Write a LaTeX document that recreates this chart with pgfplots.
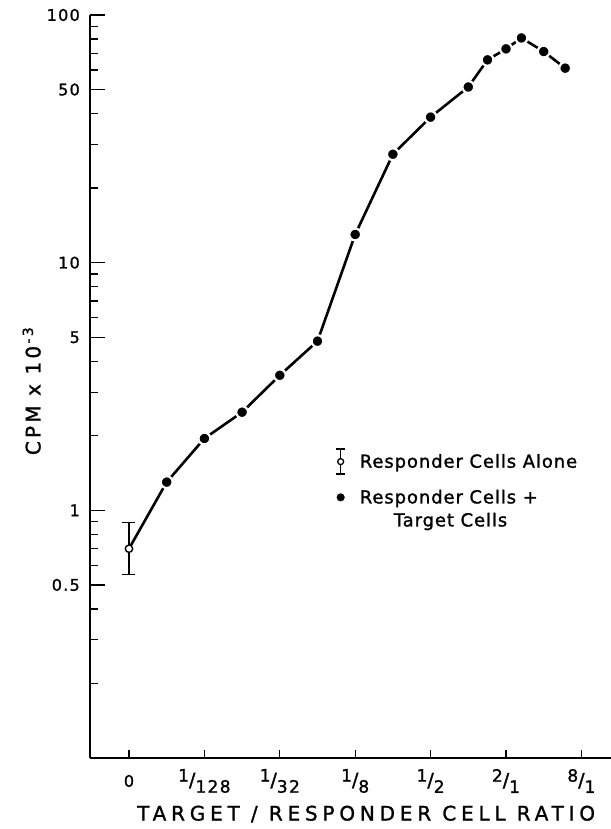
\documentclass[border=0pt]{standalone}
\usepackage{pgfplots}
\pgfplotsset{compat=1.18}
\usepackage{fontspec}
\setmainfont{DejaVu Sans}[FakeBold=1.3]
\newcommand\fr[2]{{\fontsize{17bp}{20bp}\selectfont\raisebox{0.55ex}{#1}{\fontsize{19bp}{20bp}\selectfont/}\raisebox{-0.65ex}{#2}}}
\begin{document}
\begin{tikzpicture}
\begin{axis}[
  at={(90bp,71bp)}, anchor=south west,
  scale only axis, width=521bp, height=743bp,
  ymode=log, xmin=-1.034, xmax=12.785, ymin=0.1, ymax=100,
  axis lines=left, axis line style={-, line width=1.4bp, black},
  clip=false,
  tick align=inside,
  major tick length=15bp, minor tick length=8bp,
  tick style={line width=1.3bp, black},
  ytick={0.5,1,5,10,50,100},
  yticklabels={0.5,1,5,10,50,100},
  minor ytick={0.2,0.3,0.4,0.6,0.7,0.8,0.9,2,3,4,6,7,8,9,20,30,40,60,70,80,90},
  xtick={0,2,4,6,8,10,12},
  xticklabels={0,\fr{1}{128},\fr{1}{32},\fr{1}{8},\fr{1}{2},\fr{2}{1},\fr{8}{1}},
  major x tick style={draw=none},
  minor xtick={0,2,4,6,8,10,12},
  /pgf/number format/assume math mode=true,
  tick label style={font=\fontsize{16bp}{19bp}\selectfont\addfontfeatures{LetterSpace=8}},
  yticklabel style={inner sep=0pt, anchor=east, xshift=-10bp},
  xticklabel style={inner sep=0pt, anchor=center, yshift=-23bp},
  xlabel={TARGET / RESPONDER CELL RATIO},
  xlabel style={at={(axis description cs:0.530,-0.0754)}, anchor=center, inner sep=0pt,
    font=\fontsize{20bp}{24bp}\selectfont\addfontfeatures{LetterSpace=24}},
  ylabel={CPM x 10\textsuperscript{\,-3}},
  ylabel style={at={(axis description cs:-0.112,0.494)}, anchor=center, inner sep=0pt,
    font=\fontsize{20bp}{24bp}\selectfont\addfontfeatures{LetterSpace=16}},
  legend style={draw=none, fill=none, inner sep=0pt, outer sep=0pt,
    at={(axis description cs:0.4712,0.4166)}, anchor=north west,
    row sep=15bp, column sep=14bp,
    nodes={inner sep=0pt},
    font=\fontsize{18bp}{22bp}\selectfont\addfontfeatures{LetterSpace=5}},
  legend cell align=left,
]
\addplot[line width=2.6bp, black, forget plot] coordinates {
  (0,0.70) (1,1.30) (2,1.95) (3,2.49) (4,3.51) (5,4.82) (6,13.0) (7,27.4)
  (8,38.7) (9,51.2) (9.51,65.9) (10,73.0) (10.41,80.8) (11,71.2) (11.57,61.0)
};
\addplot[only marks, mark=*, mark size=5.9bp,
  mark options={fill=black, draw=white, line width=2.2bp}, forget plot] coordinates {
  (1,1.30) (2,1.95) (3,2.49) (4,3.51) (5,4.82) (6,13.0) (7,27.4)
  (8,38.7) (9,51.2) (9.51,65.9) (10,73.0) (10.41,80.8) (11,71.2) (11.57,61.0)
};
\addplot[forget plot, only marks, mark=*, mark size=3.7bp,
  mark options={fill=white, draw=black, line width=1.4bp},
  error bars/.cd, y dir=both, y explicit,
  error bar style={line width=1.3bp, black},
  error mark options={rotate=90, mark size=6.5bp, line width=1.3bp, black}]
  coordinates {
  (0,0.70) += (0,0.194) -= (0,0.149)
};
\addlegendimage{legend image code/.code={
  \draw[line width=1.3bp] (0bp,-12.5bp) -- (0bp,12.5bp);
  \draw[line width=1.3bp] (-4.5bp,-12.5bp) -- (4.5bp,-12.5bp);
  \draw[line width=1.3bp] (-4.5bp,12.5bp) -- (4.5bp,12.5bp);
  \draw[line width=1.3bp, fill=white] (0bp,0bp) circle (3bp);
}}
\addlegendentry{Responder Cells Alone}
\addlegendimage{legend image code/.code={
  \fill[black] (0bp,0bp) circle (3.8bp);
}}
\addlegendentry{\smash{\rlap{\raisebox{-23bp}{\hspace{34bp}Target Cells}}}Responder Cells +}
\end{axis}
\pgfresetboundingbox
\useasboundingbox (0,0) rectangle (611bp,829bp);
\end{tikzpicture}
\end{document}
